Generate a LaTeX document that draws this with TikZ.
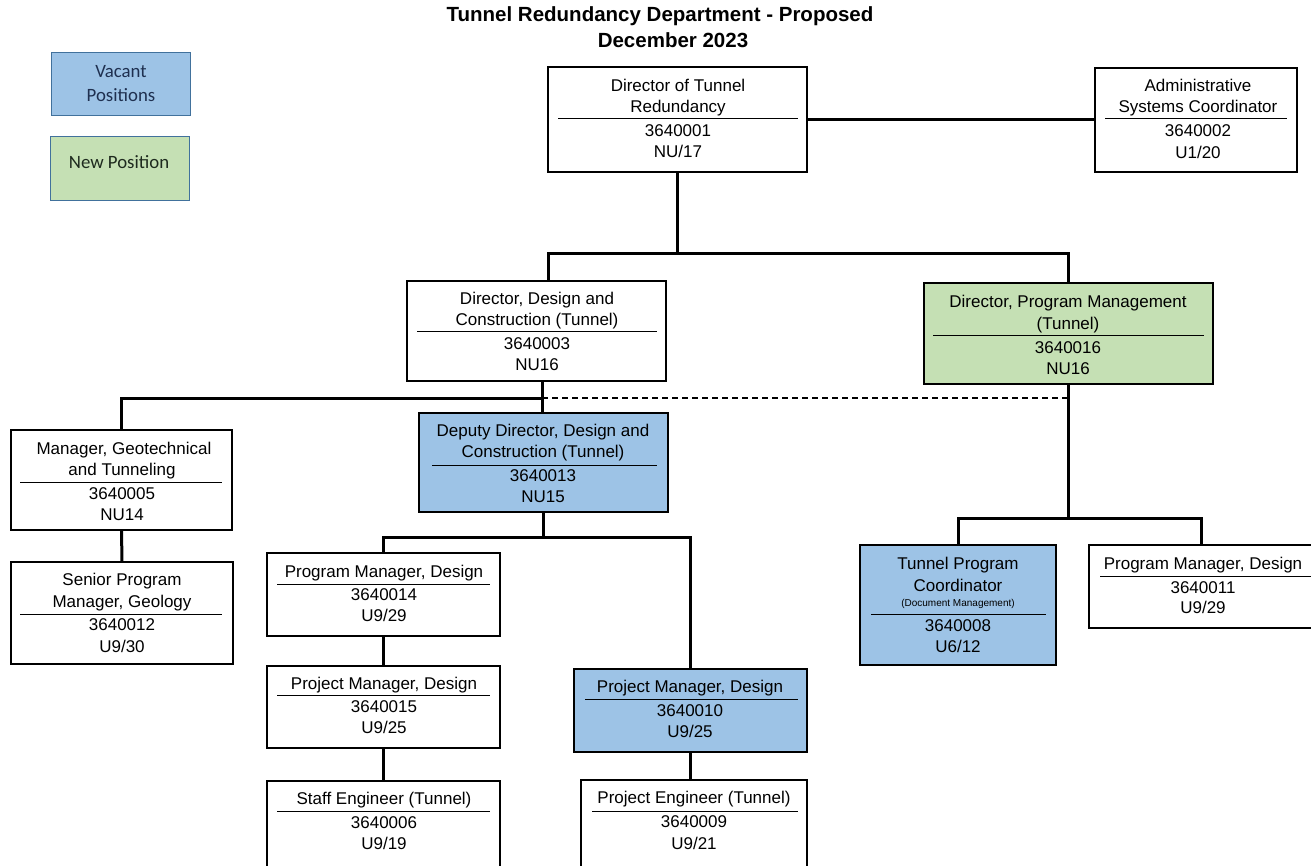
\documentclass[tikz,border=0pt]{standalone}
\usepackage{fontspec}
\setmainfont{Liberation Sans}
\newfontfamily\legendfont{Carlito}
\definecolor{vacant}{HTML}{9DC3E6}
\definecolor{newpos}{HTML}{C5E0B4}
\definecolor{legedge}{HTML}{41719C}
\definecolor{legtxt}{HTML}{1F3050}
\definecolor{legtxtg}{HTML}{1E2A1E}
\tikzset{
  obox/.style={draw=black, line width=1.1pt, inner sep=0pt, outer sep=0pt, fill=white},
  vbox/.style={obox, fill=vacant},
  nbox/.style={obox, fill=newpos},
  lbox/.style={draw=legedge, line width=1pt, inner sep=0pt, outer sep=0pt},
  txt/.style={anchor=base, yshift=-6.3pt, inner sep=0pt, font=\fontsize{17}{20}\selectfont},
  smalltxt/.style={anchor=base, yshift=-3.6pt, inner sep=0pt, font=\fontsize{10}{12}\selectfont},
  titletxt/.style={anchor=base, inner sep=0pt, font=\fontsize{20.5}{24}\selectfont\bfseries},
  legtext/.style={anchor=base, inner sep=0pt, font=\legendfont\fontsize{18.8}{21}\selectfont},
  conn/.style={line width=3pt},
  sepl/.style={line width=1pt},
  dashline/.style={line width=1.1pt, dash pattern=on 6pt off 4pt},
}
\newcommand\orgbox[6]{%
  \node[#6, minimum width={(#4-#2)*1pt}, minimum height={(#5-#3)*1pt}] (#1) at ({(#2+#4)/2},{(#3+#5)/2}) {};}
\newcommand\tl[4]{\node[txt] (#1) at (#2,#3) {#4};}
\newcommand\sepat[3]{\draw[sepl] (#1,#3) -- (#2,#3);}
\begin{document}
\begin{tikzpicture}[x=1pt,y=-1pt]
\useasboundingbox[fill=white] (0,0) rectangle (1311,866);

% title
\node[titletxt] (title1) at (660,22) {Tunnel Redundancy Department - Proposed};
\node[titletxt] (title2) at (673,48) {December 2023};

% legend
\orgbox{legv}{51}{53}{190}{116}{lbox, fill=vacant}
\orgbox{legn}{50}{137}{189}{201}{lbox, fill=newpos}
\node[legtext, text=legtxt] (legv1) at (121,78) {Vacant};
\node[legtext, text=legtxt] (legv2) at (121,102) {Positions};
\node[legtext, text=legtxtg] (legn1) at (119,169) {New Position};

% boxes
\orgbox{dir}{548}{67}{807}{172}{obox}
\orgbox{adm}{1095}{68}{1297}{172}{obox}
\orgbox{ddc}{407}{281}{666}{381}{obox}
\orgbox{dpm}{924}{283}{1213}{384}{nbox}
\orgbox{mgeo}{11}{430}{232}{530}{obox}
\orgbox{spmg}{11}{562}{233}{664}{obox}
\orgbox{dep}{419}{413}{668}{512}{vbox}
\orgbox{pm14}{267}{553}{500}{636}{obox}
\orgbox{pm15}{267}{666}{500}{748}{obox}
\orgbox{stf}{267}{781}{500}{868}{obox}
\orgbox{pm10}{574}{669}{807}{752}{vbox}
\orgbox{pe}{581}{780}{807}{868}{obox}
\orgbox{tpc}{860}{545}{1056}{665}{vbox}
\orgbox{pm11}{1089}{545}{1313}{628}{obox}

% separators
\sepat{558}{798}{119}
\sepat{1105}{1287}{119}
\sepat{417}{657}{332}
\sepat{933}{1204}{336}
\sepat{20}{222}{482}
\sepat{20}{222}{614}
\sepat{432}{657}{465}
\sepat{277}{490}{584}
\sepat{277}{490}{695}
\sepat{277}{490}{811}
\sepat{585}{798}{699}
\sepat{592}{798}{811}
\sepat{871}{1046}{614}
\sepat{1100}{1311}{576}

% texts
\tl{dir1}{678}{85}{Director of Tunnel}
\tl{dir2}{678}{106}{Redundancy}
\tl{dir3}{678}{130}{3640001}
\tl{dir4}{678}{151}{NU/17}

\tl{adm1}{1198}{85}{Administrative}
\tl{adm2}{1198}{106}{Systems Coordinator}
\tl{adm3}{1198}{130}{3640002}
\tl{adm4}{1198}{152}{U1/20}

\tl{ddc1}{537}{298}{Director, Design and}
\tl{ddc2}{537}{319}{Construction (Tunnel)}
\tl{ddc3}{537}{343}{3640003}
\tl{ddc4}{537}{364}{NU16}

\tl{dpm1}{1068}{301}{Director, Program Management}
\tl{dpm2}{1068}{323}{(Tunnel)}
\tl{dpm3}{1068}{347}{3640016}
\tl{dpm4}{1068}{368}{NU16}

\tl{mgeo1}{124}{448}{Manager, Geotechnical}
\tl{mgeo2}{122}{469}{and Tunneling}
\tl{mgeo3}{122}{493}{3640005}
\tl{mgeo4}{122}{514}{NU14}

\tl{spmg1}{122}{579}{Senior Program}
\tl{spmg2}{122}{601}{Manager, Geology}
\tl{spmg3}{122}{624}{3640012}
\tl{spmg4}{122}{646}{U9/30}

\tl{dep1}{543}{430}{Deputy Director, Design and}
\tl{dep2}{543}{451}{Construction (Tunnel)}
\tl{dep3}{543}{475}{3640013}
\tl{dep4}{543}{496}{NU15}

\tl{pm141}{384}{571}{Program Manager, Design}
\tl{pm142}{384}{594}{3640014}
\tl{pm143}{384}{615}{U9/29}

\tl{pm151}{384}{683}{Project Manager, Design}
\tl{pm152}{384}{706}{3640015}
\tl{pm153}{384}{727}{U9/25}

\tl{stf1}{384}{798}{Staff Engineer (Tunnel)}
\tl{stf2}{384}{822}{3640006}
\tl{stf3}{384}{843}{U9/19}

\tl{pm101}{690}{686}{Project Manager, Design}
\tl{pm102}{690}{710}{3640010}
\tl{pm103}{690}{731}{U9/25}

\tl{pe1}{694}{797}{Project Engineer (Tunnel)}
\tl{pe2}{694}{821}{3640009}
\tl{pe3}{694}{843}{U9/21}

\tl{tpc1}{958}{563}{Tunnel Program}
\tl{tpc2}{958}{585}{Coordinator}
\node[smalltxt] (tpc3) at (958,603) {(Document Management)};
\tl{tpc4}{958}{625}{3640008}
\tl{tpc5}{958}{646}{U6/12}

\tl{pm111}{1203}{563}{Program Manager, Design}
\tl{pm112}{1203}{587}{3640011}
\tl{pm113}{1203}{607}{U9/29}

% connectors
\coordinate (b1) at (dir.south |- 0,254);
\coordinate (b1l) at (548,254);
\coordinate (b1r) at (dpm.north |- 0,254);
\coordinate (b2) at (542,398);
\coordinate (b3) at (dpm.south |- 0,518);
\coordinate (b4) at (dep.south |- 0,537);

\draw[conn] (dir.east) -- (dir.east -| adm.west);
\draw[conn] (dir.south) -- (b1);
\draw[conn] (b1l |- ddc.north) |- (b1r) -- (dpm.north);
\draw[conn] (ddc.south -| b2) -- (dep.north -| b2);
\draw[conn] (b2) -| (mgeo.north);
\draw[dashline] (b2) -- (dpm.south |- b2);
\draw[conn] (mgeo.south) -- (spmg.north);
\draw[conn] (dpm.south) -- (b3);
\draw[conn] (tpc.north) |- (b3) -| (pm11.north);
\draw[conn] (dep.south) -- (b4);
\draw[conn] (pm14.north) |- (b4) -| (pm10.north);
\draw[conn] (pm14.south) -- (pm15.north);
\draw[conn] (pm15.south) -- (stf.north);
\draw[conn] (pm10.south) -- (pm10.south |- pe.north);
\end{tikzpicture}
\end{document}
